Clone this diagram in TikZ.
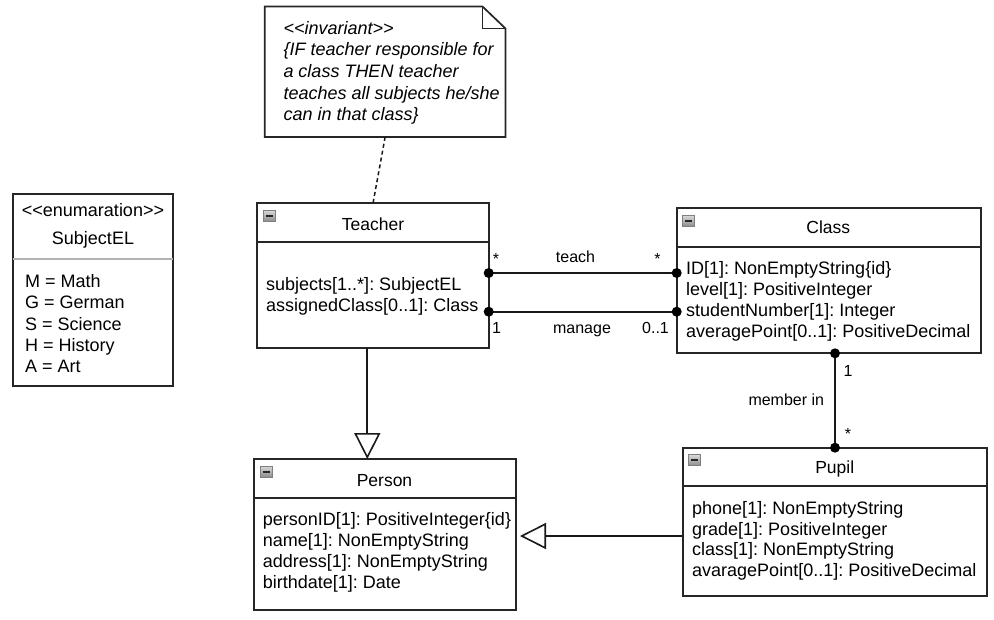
\documentclass[tikz,border=0pt]{standalone}
\usepackage{fontspec}
\setmainfont{Liberation Sans}
\frenchspacing
\usetikzlibrary{arrows.meta}
\tikzset{
  umlbox/.style={draw=black!85, line width=1.7pt, rectangle, inner sep=0pt, outer sep=0pt, fill=white},
  sepline/.style={draw=black!85, line width=1.7pt},
  graysep/.style={draw=black!30, line width=1.7pt},
  attr/.style={anchor=base west, inner sep=0pt, font=\fontsize{18}{21}\selectfont},
  ttl/.style={anchor=base, inner sep=0pt, font=\fontsize{17.5}{21}\selectfont},
  notetxt/.style={anchor=base west, inner sep=0pt, font=\fontsize{18}{21}\selectfont\itshape},
  lbl/.style={anchor=base, inner sep=0pt, font=\fontsize{16}{19}\selectfont},
  assoc/.style={draw=black!90, line width=2pt},
  gen/.style={draw=black!90, line width=1.8pt, -{Triangle[open, length=26pt, width=26pt, line width=1.6pt]}},
  endpt/.style={circle, fill=black, inner sep=0pt, minimum size=10pt},
  minusbox/.pic={
    \shade[top color=black!15, bottom color=black!45] (0,0) rectangle (12,11);
    \draw[draw=black!50, line width=0.8pt] (0,0) rectangle (12,11);
    \draw[black!85, line width=2pt] (2.5,5.5) -- (9.5,5.5);
  }
}
\begin{document}
\begin{tikzpicture}[x=1pt,y=-1pt]
\useasboundingbox[fill=white] (0,0) rectangle (994,619);

% ---------- note ----------
\node[inner sep=0pt, minimum width=240.3pt, minimum height=130pt] (note) at (385.15,71.7) {};
\draw[draw=black!85, line width=1.7pt, fill=white]
  (note.north west) -- ([xshift=-23pt]note.north east) -- ([yshift=-22pt]note.north east)
  -- (note.south east) -- (note.south west) -- cycle;
\draw[draw=black!85, line width=1.7pt]
  ([xshift=-23pt]note.north east) -- ([xshift=-23pt,yshift=-22pt]note.north east) -- ([yshift=-22pt]note.north east);
\node[notetxt] (n1) at (283.3,34) {<{}<invariant>{}>};
\node[notetxt] (n2) at (283.3,55.7) {\{IF teacher responsible for};
\node[notetxt] (n3) at (283.3,77.3) {a class THEN teacher};
\node[notetxt] (n4) at (283.3,99) {teaches all subjects he/she};
\node[notetxt] (n5) at (283.3,120.5) {can in that class\}};

% ---------- enumeration ----------
\node[umlbox, minimum width=160.6pt, minimum height=191.7pt] (enum) at (93,290.15) {};
\draw[graysep] ([yshift=-65pt]enum.north west) -- ([yshift=-65pt]enum.north east);
\node[attr, anchor=base] (e0) at (93,216.7) {<{}<enumaration>{}>};
\node[attr, anchor=base] (e1) at (93,244) {SubjectEL};
\node[attr] (e2) at (25,287.7) {M = Math};
\node[attr] (e3) at (25,308.8) {G = German};
\node[attr] (e4) at (25,330) {S = Science};
\node[attr] (e5) at (25,351.2) {H = History};
\node[attr] (e6) at (25,372.6) {A = Art};

% ---------- Teacher ----------
\node[umlbox, minimum width=231.4pt, minimum height=144.4pt] (teacher) at (373,275.5) {};
\draw[sepline] ([yshift=-39pt]teacher.north west) -- ([yshift=-39pt]teacher.north east);
\pic at ([xshift=6pt,yshift=-7pt]teacher.north west) {minusbox};
\node[ttl] (t0) at (373,230) {Teacher};
\node[attr] (t1) at (266,290) {subjects[1..*]: SubjectEL};
\node[attr] (t2) at (266,311.3) {assignedClass[0..1]: Class};

% ---------- Class ----------
\node[umlbox, minimum width=304pt, minimum height=145pt] (class) at (828.7,280.8) {};
\draw[sepline] ([yshift=-39pt]class.north west) -- ([yshift=-39pt]class.north east);
\pic at ([xshift=6pt,yshift=-7pt]class.north west) {minusbox};
\node[ttl] (c0) at (828.3,233.3) {Class};
\node[attr] (c1) at (686,274) {ID[1]: NonEmptyString\{id\}};
\node[attr] (c2) at (686,295.3) {level[1]: PositiveInteger};
\node[attr] (c3) at (686,316.6) {studentNumber[1]: Integer};
\node[attr] (c4) at (686,337.9) {averagePoint[0..1]: PositiveDecimal};

% ---------- Pupil ----------
\node[umlbox, minimum width=304.6pt, minimum height=148.3pt] (pupil) at (835,521.85) {};
\draw[sepline] ([yshift=-38.3pt]pupil.north west) -- ([yshift=-38.3pt]pupil.north east);
\pic at ([xshift=6pt,yshift=-7pt]pupil.north west) {minusbox};
\node[ttl] (p0) at (834.7,473.3) {Pupil};
\node[attr] (p1) at (692,514) {phone[1]: NonEmptyString};
\node[attr] (p2) at (692,535) {grade[1]: PositiveInteger};
\node[attr] (p3) at (692,555.8) {class[1]: NonEmptyString};
\node[attr] (p4) at (692,576.6) {avaragePoint[0..1]: PositiveDecimal};

% ---------- Person ----------
\node[umlbox, minimum width=262pt, minimum height=151pt] (person) at (385,534.5) {};
\draw[sepline] ([yshift=-39.3pt]person.north west) -- ([yshift=-39.3pt]person.north east);
\pic at ([xshift=6pt,yshift=-7pt]person.north west) {minusbox};
\node[ttl] (r0) at (384.5,486.7) {Person};
\node[attr] (r1) at (262.7,525.7) {personID[1]: PositiveInteger\{id\}};
\node[attr] (r2) at (262.7,546.7) {name[1]: NonEmptyString};
\node[attr] (r3) at (262.7,567.7) {address[1]: NonEmptyString};
\node[attr] (r4) at (262.7,588.5) {birthdate[1]: Date};

% ---------- connectors ----------
\draw[draw=black!90, line width=1.5pt, dash pattern=on 4pt off 3pt] (note.south) -- (teacher.north);

% teach
\coordinate (teachA) at (teacher.east |- 0,273);
\coordinate (teachB) at (class.west |- 0,273);
\draw[assoc] (teachA) -- (teachB);
\node[endpt] (teachDa) at (teachA) {};
\node[endpt] (teachDb) at (teachB) {};
\node[lbl] (lt1) at (496,264.5) {*};
\node[lbl] (lt2) at (575.5,262.5) {teach};
\node[lbl] (lt3) at (657.5,264.5) {*};

% manage
\coordinate (manA) at (teacher.east |- 0,311.7);
\coordinate (manB) at (class.west |- 0,311.7);
\draw[assoc] (manA) -- (manB);
\node[endpt] (manDa) at (manA) {};
\node[endpt] (manDb) at (manB) {};
\node[lbl] (lm1) at (496.5,333.5) {1};
\node[lbl] (lm2) at (582,333.5) {manage};
\node[lbl] (lm3) at (655.5,333.5) {0..1};

% member in
\coordinate (memA) at (pupil.north |- class.south);
\draw[assoc] (memA) -- (pupil.north);
\node[endpt] (memDa) at (memA) {};
\node[endpt] (memDb) at (pupil.north) {};
\node[lbl] (lp1) at (848,376) {1};
\node[lbl] (lp2) at (786.3,405) {member in};
\node[lbl] (lp3) at (848,439.5) {*};

% generalizations
\draw[gen] (teacher.south -| 367.3,0) -- (person.north -| 367.3,0);
\draw[gen, shorten >=4pt] (pupil.west |- 0,536) -- (person.east |- 0,536);

\end{tikzpicture}
\end{document}
